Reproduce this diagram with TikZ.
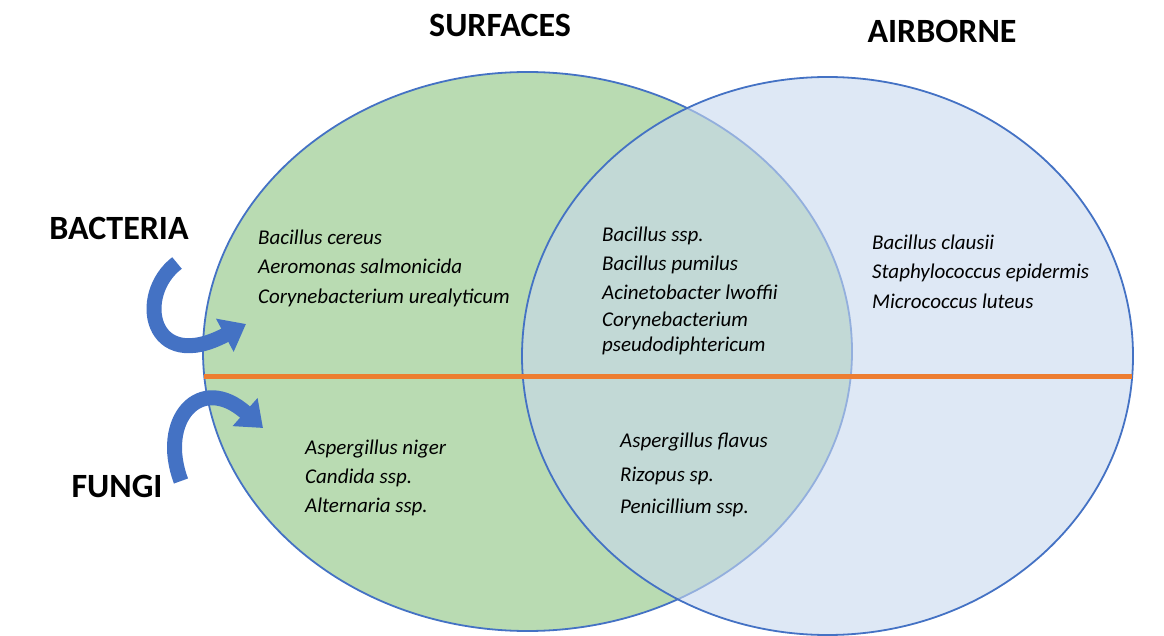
\documentclass[tikz,border=0pt]{standalone}
\usepackage{fontspec}
\setmainfont{Carlito}
\usetikzlibrary{shapes.geometric,arrows.meta}
\definecolor{leftfill}{RGB}{185,219,178}
\definecolor{rightfill}{RGB}{200,216,238}
\definecolor{rimblue}{RGB}{68,114,196}
\definecolor{arrowblue}{RGB}{68,114,196}
\definecolor{lineorange}{RGB}{237,125,49}
\tikzset{
  setshape/.style={ellipse, draw=rimblue, line width=1.8pt, inner sep=0pt},
  species/.style={anchor=base west, inner sep=0pt, font=\fontsize{21}{24}\selectfont\itshape},
  header/.style={anchor=base, inner sep=0pt, font=\fontsize{34}{40}\selectfont\bfseries},
  bigarrow/.style={draw=arrowblue, line width=15pt, -{Triangle[width=36pt,length=24pt]}},
  divider/.style={draw=lineorange, line width=5pt}
}
\begin{document}
\begin{tikzpicture}[x=1pt,y=-1pt]
\useasboundingbox (0,0) rectangle (1164,636);
% sets
\node[setshape, fill=leftfill, minimum width=649pt, minimum height=559pt] (surf) at (527.5,351.5) {};
\node[setshape, fill=rightfill, fill opacity=0.6, minimum width=611pt, minimum height=558pt] (air) at (827.5,356) {};
% divider
\coordinate (divL) at (204,376);
\coordinate (divR) at (1132,376);
\draw[divider] (divL) -- (divR);
% headers
\node[header] (hsurf) at (500,37) {SURFACES};
\node[header] (hair) at (942,43) {AIRBORNE};
\node[header] (hbac) at (119,240) {BACTERIA};
\node[header] (hfun) at (117,497) {FUNGI};
% arrows
\coordinate (bacTail) at (177,263);
\coordinate (bacTip) at (246,324);
\draw[bigarrow] (bacTail) .. controls (135,295) and (150,375) .. (bacTip);
\coordinate (funTail) at (181,481);
\coordinate (funTip) at (263,428);
\draw[bigarrow] (funTail) .. controls (158,420) and (200,372) .. (funTip);
% species: surfaces bacteria
\node[species] (s1) at (258,245) {Bacillus cereus};
\node[species] (s2) at (258,274) {Aeromonas salmonicida};
\node[species] (s3) at (258,303) {Corynebacterium urealyticum};
% shared bacteria
\node[species] (m1) at (602,242) {Bacillus ssp.};
\node[species] (m2) at (602,270) {Bacillus pumilus};
\node[species] (m3) at (602,299) {Acinetobacter lwoffii};
\node[species] (m4) at (602,326) {Corynebacterium};
\node[species] (m5) at (602,351) {pseudodiphtericum};
% airborne bacteria
\node[species] (a1) at (872,250) {Bacillus clausii};
\node[species] (a2) at (872,279) {Staphylococcus epidermis};
\node[species] (a3) at (872,308) {Micrococcus luteus};
% surfaces fungi
\node[species] (f1) at (305,454) {Aspergillus niger};
\node[species] (f2) at (305,483) {Candida ssp.};
\node[species] (f3) at (305,512) {Alternaria ssp.};
% shared fungi
\node[species] (g1) at (620,447) {Aspergillus flavus};
\node[species] (g2) at (620,481) {Rizopus sp.};
\node[species] (g3) at (620,513) {Penicillium ssp.};
\end{tikzpicture}
\end{document}
